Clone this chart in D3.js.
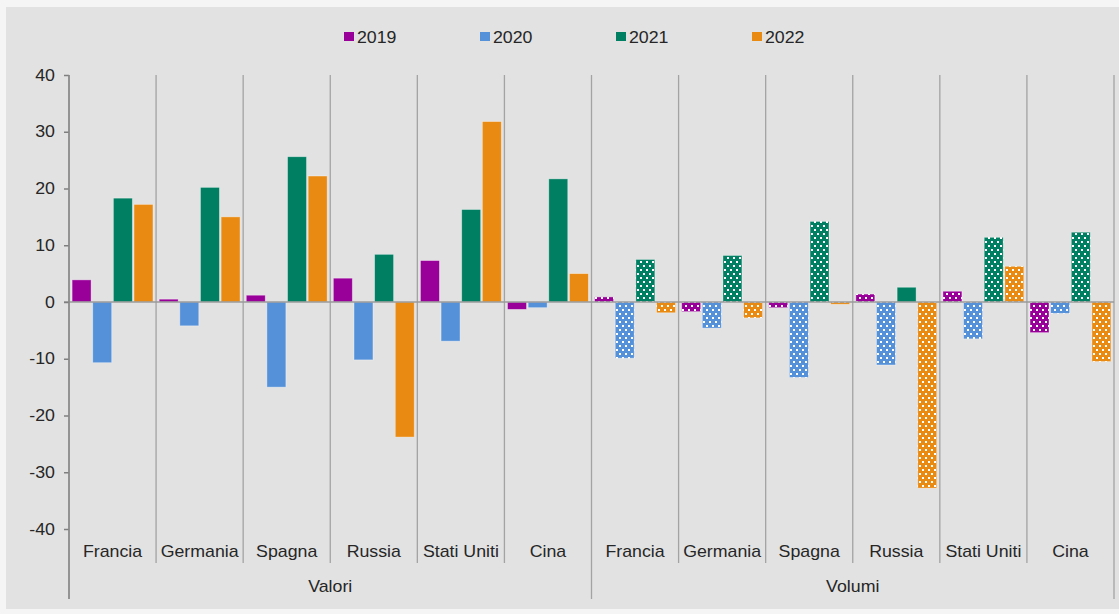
<!DOCTYPE html>
<html>
<head>
<meta charset="utf-8">
<script src="https://cdn.jsdelivr.net/npm/d3@7"></script>
<style>
  body { margin: 0; background: #f5f5f5; }
  svg { display: block; font-family: "Liberation Sans", Arial, sans-serif; }
</style>
</head>
<body>
<svg id="chart" width="1119" height="614"></svg>
<script>
// categories
var countries = ["Francia", "Germania", "Spagna", "Russia", "Stati Uniti", "Cina"];
var groups = ["Valori", "Volumi"];
var years = ["2019", "2020", "2021", "2022"];
var yTicks = [-40, -30, -20, -10, 0, 10, 20, 30, 40];

// values, one list per year, in order Valori(6 countries) then Volumi(6 countries)
var values2019 = [3.9, 0.5, 1.2, 4.2, 7.3, -1.3,   0.9, -1.7, -1.0, 1.4, 1.9, -5.4];
var values2020 = [-10.7, -4.2, -15.0, -10.2, -6.9, -1.0,   -9.9, -4.6, -13.3, -11.1, -6.5, -2.0];
var values2021 = [18.3, 20.2, 25.6, 8.4, 16.3, 21.7,   7.5, 8.2, 14.2, 2.6, 11.4, 12.3];
var values2022 = [17.2, 15.0, 22.2, -23.8, 31.8, 5.0,   -1.9, -2.8, -0.4, -32.8, 6.3, -10.5];

// the one Volumi bar drawn without the dotted fill
var solidVolumi = ["Russia|2021"];

var colors = { "2019": "#990099", "2020": "#5591d9", "2021": "#007f62", "2022": "#e98a12" };

var TEXT_COLOR = "#262626";
var LINE_COLOR = "#a3a3a3";
var STRETCH = 1.11;

var svg = d3.select("#chart");

// background
svg.append("rect")
  .attr("x", 6).attr("y", 7)
  .attr("width", 1113).attr("height", 602)
  .attr("fill", "#e2e2e2");

// dotted patterns for the Volumi bars
var defs = svg.append("defs");
years.forEach(function (yr) {
  var p = defs.append("pattern")
    .attr("id", "dots" + yr)
    .attr("patternUnits", "userSpaceOnUse")
    .attr("width", 6).attr("height", 8);
  p.append("rect").attr("width", 6).attr("height", 8).attr("fill", colors[yr]);
  p.append("rect").attr("x", 1).attr("y", 1).attr("width", 2).attr("height", 2).attr("fill", "#ffffff");
  p.append("rect").attr("x", 4).attr("y", 5).attr("width", 2).attr("height", 2).attr("fill", "#ffffff");
});

// build rows
var categories = [];
groups.forEach(function (g) {
  countries.forEach(function (c) { categories.push(g + "|" + c); });
});
var seriesByYear = { "2019": values2019, "2020": values2020, "2021": values2021, "2022": values2022 };
var rows = [];
categories.forEach(function (cat, i) {
  years.forEach(function (yr) {
    var parts = cat.split("|");
    rows.push({ group: parts[0], country: parts[1], cat: cat, year: yr, value: seriesByYear[yr][i] });
  });
});

// scales
var xScale = d3.scaleBand().domain(categories).range([69, 1114]);
var xInner = d3.scaleBand().domain(years).range([0, xScale.bandwidth()])
  .paddingInner(0.08).paddingOuter(0.15);
var yScale = d3.scaleLinear().domain([-40, 40]).range([529, 75]);

function stretched(sel, x, y) {
  return sel.attr("transform", function (d, i) {
    return "translate(" + x(d, i) + "," + y(d, i) + ") scale(" + STRETCH + ",1)";
  });
}

// category separators
var bounds = d3.range(categories.length + 1);
svg.append("g").selectAll("line")
  .data(bounds)
  .enter().append("line")
  .attr("x1", function (i) { return i < categories.length ? xScale(categories[i]) : xScale.range()[1]; })
  .attr("x2", function (i) { return i < categories.length ? xScale(categories[i]) : xScale.range()[1]; })
  .attr("y1", 75)
  .attr("y2", function (i) { return i % countries.length === 0 ? 599 : 563; })
  .attr("stroke", LINE_COLOR)
  .attr("stroke-width", 1.3);

// bars
svg.append("g").selectAll("rect")
  .data(rows)
  .enter().append("rect")
  .attr("x", function (d) { return xScale(d.cat) + xInner(d.year); })
  .attr("width", xInner.bandwidth())
  .attr("y", function (d) { return yScale(Math.max(0, d.value)); })
  .attr("height", function (d) { return Math.abs(yScale(d.value) - yScale(0)); })
  .attr("fill", function (d) {
    if (d.group === "Volumi" && solidVolumi.indexOf(d.country + "|" + d.year) < 0) {
      return "url(#dots" + d.year + ")";
    }
    return colors[d.year];
  })
  .attr("stroke", "rgba(255,255,255,0.45)")
  .attr("stroke-width", 0.8);

// zero line
svg.append("line")
  .attr("x1", 64).attr("x2", xScale.range()[1])
  .attr("y1", yScale(0)).attr("y2", yScale(0))
  .attr("stroke", "#9a9a9a")
  .attr("stroke-width", 1.6);

// y axis
var yAxis = d3.axisLeft(yScale).tickValues(yTicks).tickSize(5).tickFormat(d3.format("d"));
var yAxisG = svg.append("g")
  .attr("transform", "translate(69,0)")
  .call(yAxis);
yAxisG.select(".domain").remove();
yAxisG.selectAll(".tick line").attr("stroke", "#7f7f7f").attr("stroke-width", 1.5);
yAxisG.selectAll(".tick text").remove();
yAxisG.append("line")
  .attr("x1", 0).attr("x2", 0).attr("y1", 75).attr("y2", 599)
  .attr("stroke", "#8a8a8a").attr("stroke-width", 1.6);

stretched(svg.append("g").selectAll("text")
  .data(yTicks)
  .enter().append("text")
  .attr("text-anchor", "end")
  .attr("dy", "0.35em")
  .attr("font-size", 16)
  .attr("fill", TEXT_COLOR)
  .text(function (d) { return d; }),
  function () { return 55; },
  function (d) { return yScale(d); });

// category labels
stretched(svg.append("g").selectAll("text")
  .data(categories)
  .enter().append("text")
  .attr("text-anchor", "middle")
  .attr("font-size", 16)
  .attr("fill", TEXT_COLOR)
  .text(function (d) { return d.split("|")[1]; }),
  function (d) { return xScale(d) + xScale.bandwidth() / 2; },
  function () { return 557; });

// group labels
stretched(svg.append("g").selectAll("text")
  .data(groups)
  .enter().append("text")
  .attr("text-anchor", "middle")
  .attr("font-size", 16)
  .attr("fill", TEXT_COLOR)
  .text(function (d) { return d; }),
  function (d) {
    var first = xScale(d + "|" + countries[0]);
    var last = xScale(d + "|" + countries[countries.length - 1]) + xScale.bandwidth();
    return (first + last) / 2;
  },
  function () { return 592; });

// legend
var legendX = d3.scaleBand().domain(years).range([344, 888]);
var legend = svg.append("g").selectAll("g")
  .data(years)
  .enter().append("g");
legend.append("rect")
  .attr("x", function (d) { return legendX(d); })
  .attr("y", 32)
  .attr("width", 10).attr("height", 9)
  .attr("fill", function (d) { return colors[d]; });
stretched(legend.append("text")
  .attr("font-size", 16)
  .attr("fill", TEXT_COLOR)
  .text(function (d) { return d; }),
  function (d) { return legendX(d) + 13; },
  function () { return 43; });
</script>
</body>
</html>
